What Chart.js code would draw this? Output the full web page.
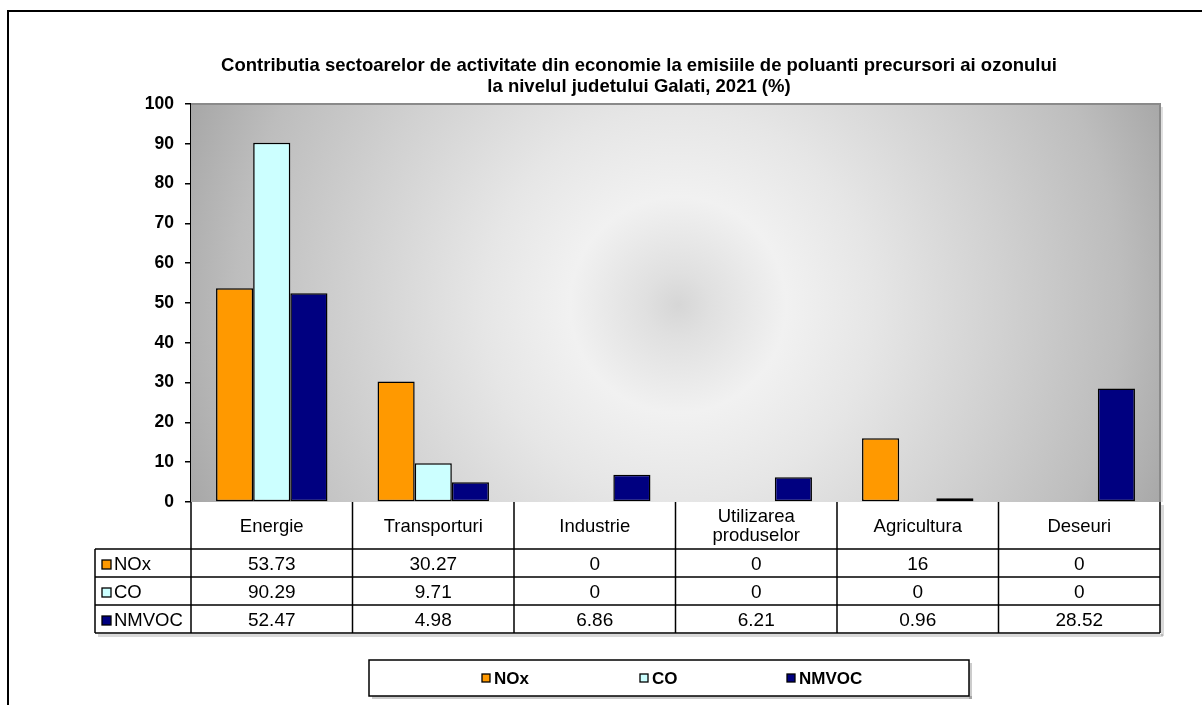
<!DOCTYPE html>
<html>
<head>
<meta charset="utf-8">
<script src="https://cdn.jsdelivr.net/npm/chart.js@4.4.1/dist/chart.umd.min.js"></script>
<style>
  html, body { margin: 0; padding: 0; background: #ffffff; }
  #wrap { position: relative; width: 1202px; height: 705px; }
</style>
</head>
<body>
<div id="wrap"><canvas id="c" width="1202" height="705"></canvas></div>
<script>
// ---- data ----
const categories = ["Energie", "Transporturi", "Industrie", "Utilizarea produselor", "Agricultura", "Deseuri"];
const categoryLines = [["Energie"], ["Transporturi"], ["Industrie"], ["Utilizarea", "produselor"], ["Agricultura"], ["Deseuri"]];
const seriesNames = ["NOx", "CO", "NMVOC"];
const noxValues = [53.73, 30.27, 0, 0, 16, 0];
const coValues = [90.29, 9.71, 0, 0, 0, 0];
const nmvocValues = [52.47, 4.98, 6.86, 6.21, 0.96, 28.52];
const tableText = {
  NOx: ["53.73", "30.27", "0", "0", "16", "0"],
  CO: ["90.29", "9.71", "0", "0", "0", "0"],
  NMVOC: ["52.47", "4.98", "6.86", "6.21", "0.96", "28.52"]
};
const titleLines = [
  "Contributia sectoarelor de activitate din economie la emisiile de poluanti precursori ai ozonului",
  "la nivelul judetului Galati, 2021 (%)"
];
const yTicks = [0, 10, 20, 30, 40, 50, 60, 70, 80, 90, 100];

const colors = { NOx: "#FF9900", CO: "#CCFFFF", NMVOC: "#000080" };
const FONT = "'Liberation Sans', Arial, sans-serif";

// background gradient + plot frame
const bgPlugin = {
  id: "bg",
  beforeDatasetsDraw(chart) {
    const { ctx, chartArea: a } = chart;
    ctx.save();
    ctx.fillStyle = "rgba(0,0,0,0.12)";
    ctx.fillRect(a.right, a.top + 3, 3, a.bottom - a.top - 3);
    const cx = 678, cy = 305;
    const g = ctx.createRadialGradient(cx, cy, 0, cx, cy, 540);
    g.addColorStop(0, "#d6d6d6");
    g.addColorStop(0.06, "#e0e0e0");
    g.addColorStop(0.2, "#f1f1f1");
    g.addColorStop(0.36, "#e6e6e6");
    g.addColorStop(0.6, "#d1d1d1");
    g.addColorStop(0.82, "#bdbdbd");
    g.addColorStop(1, "#a3a3a3");
    ctx.fillStyle = g;
    ctx.fillRect(a.left, a.top, a.right - a.left, a.bottom - a.top);
    ctx.strokeStyle = "#8a8a8a";
    ctx.lineWidth = 2;
    ctx.beginPath();
    ctx.moveTo(a.left, a.top);
    ctx.lineTo(a.right, a.top);
    ctx.lineTo(a.right, a.bottom);
    ctx.stroke();
    ctx.restore();
  }
};

// title, table, legend, outer frame
const decoPlugin = {
  id: "deco",
  afterDraw(chart) {
    const { ctx, chartArea: a } = chart;
    const xs = chart.scales.x;
    ctx.save();

    // outer frame
    ctx.strokeStyle = "#000";
    ctx.lineWidth = 2;
    ctx.beginPath();
    ctx.moveTo(8, 705);
    ctx.lineTo(8, 11);
    ctx.lineTo(1202, 11);
    ctx.stroke();

    // title
    ctx.fillStyle = "#000";
    ctx.font = "bold 18.5px " + FONT;
    ctx.textAlign = "center";
    ctx.textBaseline = "middle";
    ctx.fillText(titleLines[0], 639, 66);
    ctx.fillText(titleLines[1], 639, 87);

    // table geometry
    const colW = (a.right - a.left) / categories.length;
    const headTop = a.bottom, headBot = 549;
    const rowTops = [549, 577, 605, 633];
    const labelLeft = 95;

    // table shadow
    ctx.fillStyle = "rgba(0,0,0,0.15)";
    ctx.fillRect(a.right + 1, headTop + 3, 3, rowTops[3] - headTop);
    ctx.fillRect(labelLeft + 3, rowTops[3] + 1, a.right - labelLeft, 3);
    ctx.fillStyle = "#ffffff";
    ctx.fillRect(a.left, headTop, a.right - a.left, headBot - headTop);
    ctx.fillRect(labelLeft, headBot, a.right - labelLeft, rowTops[3] - headBot);

    ctx.strokeStyle = "#000";
    ctx.lineWidth = 1.5;
    ctx.beginPath();
    for (let i = 0; i <= categories.length; i++) {
      const x = a.left + i * colW;
      ctx.moveTo(x, headTop);
      ctx.lineTo(x, rowTops[3]);
    }
    ctx.moveTo(labelLeft, headBot);
    ctx.lineTo(labelLeft, rowTops[3]);
    rowTops.forEach(y => { ctx.moveTo(labelLeft, y); ctx.lineTo(a.right, y); });
    ctx.stroke();

    // header labels
    ctx.fillStyle = "#000";
    ctx.font = "18.5px " + FONT;
    ctx.textAlign = "center";
    ctx.textBaseline = "middle";
    categoryLines.forEach((lines, i) => {
      const cx = xs.getPixelForValue(i);
      const mid = (headTop + headBot) / 2 + 1;
      if (lines.length === 1) {
        ctx.fillText(lines[0], cx, mid);
      } else {
        ctx.fillText(lines[0], cx, mid - 9.5);
        ctx.fillText(lines[1], cx, mid + 9.5);
      }
    });

    // rows
    seriesNames.forEach((name, r) => {
      const yMid = (rowTops[r] + rowTops[r + 1]) / 2 + 1;
      ctx.fillStyle = colors[name];
      ctx.fillRect(102, yMid - 4, 9, 9);
      ctx.strokeStyle = "#000";
      ctx.lineWidth = 1.3;
      ctx.strokeRect(102, yMid - 4, 9, 9);
      ctx.fillStyle = "#000";
      ctx.font = "18.5px " + FONT;
      ctx.textAlign = "left";
      ctx.fillText(name, 114, yMid + 1);
      ctx.textAlign = "center";
      ctx.font = "19px " + FONT;
      tableText[name].forEach((t, i) => {
        ctx.fillText(t, xs.getPixelForValue(i), yMid + 1);
      });
    });

    // legend box
    const lb = { l: 369, t: 660, r: 969, b: 696 };
    ctx.fillStyle = "rgba(0,0,0,0.2)";
    ctx.fillRect(lb.l + 3, lb.b, lb.r - lb.l, 3);
    ctx.fillRect(lb.r, lb.t + 3, 3, lb.b - lb.t);
    ctx.fillStyle = "#fff";
    ctx.fillRect(lb.l, lb.t, lb.r - lb.l, lb.b - lb.t);
    ctx.strokeStyle = "#000";
    ctx.lineWidth = 1.5;
    ctx.strokeRect(lb.l, lb.t, lb.r - lb.l, lb.b - lb.t);
    const legendX = [482, 640, 787];
    const ly = 678;
    ctx.font = "bold 17px " + FONT;
    ctx.textAlign = "left";
    ctx.textBaseline = "middle";
    seriesNames.forEach((name, i) => {
      ctx.fillStyle = colors[name];
      ctx.fillRect(legendX[i], ly - 4, 8, 8);
      ctx.strokeStyle = "#000";
      ctx.lineWidth = 1.3;
      ctx.strokeRect(legendX[i], ly - 4, 8, 8);
      ctx.fillStyle = "#000";
      ctx.fillText(name, legendX[i] + 12, ly + 1);
    });
    ctx.restore();
  }
};

const ds = (name, data) => ({
  label: name,
  data: data,
  backgroundColor: colors[name],
  borderColor: "#000000",
  borderWidth: 1.5,
  borderSkipped: false,
  categoryPercentage: 0.69,
  barPercentage: 1.0
});

new Chart(document.getElementById("c"), {
  type: "bar",
  data: {
    labels: categories,
    datasets: [ds("NOx", noxValues), ds("CO", coValues), ds("NMVOC", nmvocValues)]
  },
  options: {
    responsive: false,
    animation: false,
    devicePixelRatio: 1,
    layout: { padding: { top: 104, right: 42, bottom: 203, left: 0 } },
    plugins: { legend: { display: false }, title: { display: false }, tooltip: { enabled: false } },
    scales: {
      x: { display: false, offset: true },
      y: {
        min: 0, max: 100,
        afterBuildTicks(scale) { scale.ticks = yTicks.map(v => ({ value: v })); },
        afterFit(scale) { scale.width = 191; },
        ticks: {
          color: "#000",
          font: { family: FONT, size: 17.5, weight: "bold" },
          padding: 11
        },
        grid: { drawOnChartArea: false, tickLength: 6, color: "#000", lineWidth: 1.5 },
        border: { display: true, color: "#000", width: 1.5 }
      }
    }
  },
  plugins: [bgPlugin, decoPlugin]
});
</script>
</body>
</html>
